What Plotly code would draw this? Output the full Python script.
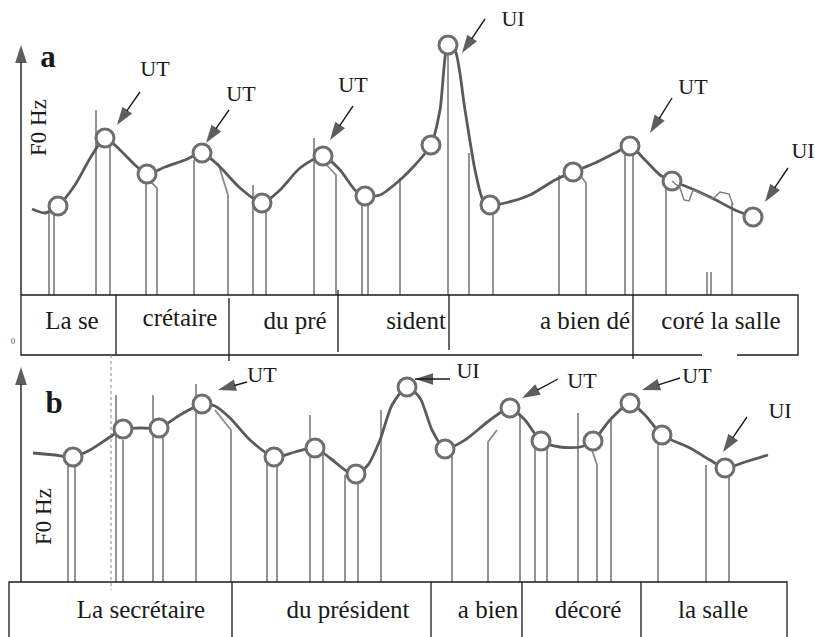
import plotly.graph_objects as go

SERIF = "Liberation Serif"
INK = "#1a1a1a"
CONTOUR = "#5a5a5a"
SPIKE = "#8a8a8a"
RING = "#6e6e6e"

# ---------------- panel a : F0 contour, time in frames, F0 above tier line
a_time = [32, 45, 58, 75, 92, 105, 120, 135, 147, 165, 185, 202, 218, 240, 262,
          280, 300, 323, 340, 355, 365, 380, 400, 415, 431, 440, 448, 455, 465,
          475, 483, 490, 505, 530, 555, 573, 595, 615, 630, 645, 660, 672, 690,
          710, 735, 753]
a_f0 = [86, 82, 89, 110, 140, 157, 145, 130, 121, 128, 135, 142, 130, 107, 92,
        105, 127, 139, 125, 105, 99, 100, 115, 130, 150, 185, 250, 245, 185,
        125, 95, 90, 92, 100, 115, 123, 132, 142, 149, 135, 120, 114, 107,
        98, 85, 78]
a_alt_time = [672, 680, 684, 689, 693, 700, 712, 716, 720, 729, 733]
a_alt_f0 = [114, 107, 95, 94, 105, 102, 96, 99, 103, 101, 90]

a_tgt_time = [58, 105, 147, 202, 262, 323, 365, 431, 448, 490, 573, 630, 672, 753]
a_tgt_f0 = [89, 157, 121, 142, 92, 139, 99, 150, 250, 90, 123, 149, 114, 78]

a_spike_time = [49, 54, 96, 110, 146, 194, 253, 266, 314, 362, 368, 400, 448,
                469, 493, 559, 625, 633, 666, 707, 711, 732]
a_spike_top = [82, 82, 185, 155, 120, 135, 110, 90, 157, 95, 95, 117, 250,
               142, 80, 120, 145, 145, 110, 23, 23, 92]
# spikes with a falling onset: start time, start F0, end time, end F0
a_slant_t0 = [147, 218, 322, 580]
a_slant_f0 = [117, 132, 135, 120]
a_slant_t1 = [157, 228, 336, 586]
a_slant_f1 = [107, 100, 120, 112]

a_bounds = [116, 229, 338, 449, 633]
a_bound_hi = [0, -3, 5, 0, 0]
a_bound_lo = [-60, -66, -57, -55, -64]
a_words = ["La se", "crétaire", "du pré", "sident", "a bien dé", "coré la salle"]
a_word_time = [72, 180, 295, 416, 585, 721]
a_word_f0 = [-28, -25, -28, -28, -28, -28]

a_tags = ["UT", "UT", "UT", "UI", "UT", "UI"]
a_tag_time = [155, 241, 353, 513, 693, 803]
a_tag_f0 = [225, 200, 209, 275, 207, 143]
a_tail_time = [140, 229, 353, 485, 672, 788]
a_tail_f0 = [203, 185, 189, 276, 197, 127]
a_tip_time = [117, 206, 330, 462, 650, 765]
a_tip_f0 = [170, 152, 155, 242, 162, 93]

# ---------------- panel b
b_time = [33, 55, 73, 90, 110, 123, 140, 159, 180, 202, 215, 230, 250, 274, 295,
          315, 330, 345, 356, 368, 380, 392, 407, 420, 432, 445, 465, 490, 510,
          525, 541, 560, 580, 593, 610, 630, 645, 662, 690, 710, 725, 745, 768]
b_f0 = [129, 127, 125, 132, 145, 153, 154, 154, 167, 178, 176, 164, 142, 125, 130,
        134, 124, 112, 108, 117, 142, 177, 195, 184, 152, 133, 142, 162, 174,
        162, 141, 135, 135, 141, 162, 179, 167, 147, 134, 122, 114, 120, 127]

b_tgt_time = [73, 123, 159, 202, 274, 315, 356, 407, 445, 510, 541, 593, 630, 662, 725]
b_tgt_f0 = [125, 153, 154, 178, 125, 134, 108, 195, 133, 174, 141, 141, 179, 147, 114]

b_spike_time = [68, 75, 116, 123, 153, 163, 196, 267, 277, 310, 323, 345, 358,
                381, 452, 520, 535, 547, 578, 611, 658, 706, 729]
b_spike_top = [125, 122, 187, 142, 187, 147, 198, 122, 117, 167, 127, 107, 102,
               172, 127, 167, 137, 137, 169, 162, 142, 117, 107]
b_slant_t0 = [215, 497, 592]
b_slant_f0 = [172, 152, 132]
b_slant_t1 = [231, 488, 597]
b_slant_f1 = [152, 140, 117]

b_bounds = [232, 431, 522, 641]
b_words = ["La secrétaire", "du président", "a bien", "décoré", "la salle"]
b_word_time = [141, 348, 488, 588, 713]
b_word_f0 = [-30, -30, -30, -30, -30]

b_tags = ["UT", "UI", "UT", "UT", "UI"]
b_tag_time = [262, 468, 582, 697, 780]
b_tag_f0 = [206, 210, 200, 205, 170]
b_tail_time = [247, 450, 558, 680, 747]
b_tail_f0 = [200, 203, 203, 204, 165]
b_tip_time = [218, 415, 522, 642, 723]
b_tip_f0 = [192, 203, 184, 192, 130]

fig = go.Figure()


def add(trace, panel):
    if panel == "b":
        trace.update(xaxis="x2", yaxis="y2")
    fig.add_trace(trace)


def segments(x0s, y0s, x1s, y1s):
    xs, ys = [], []
    for a, b, c, d in zip(x0s, y0s, x1s, y1s):
        xs += [a, c, None]
        ys += [b, d, None]
    return xs, ys


def arrow(p, x0, y0, x1, y1):
    add(go.Scatter(x=[x0, x1], y=[y0, y1], mode="lines+markers",
                   line=dict(color=INK, width=1.4),
                   marker=dict(symbol="arrow", size=[0, 19], color=INK,
                               angleref="previous", line=dict(width=0)),
                   hoverinfo="skip"), p)


def panel(p, time, f0, tgt_t, tgt_f, sp_t, sp_top, sl_t0, sl_f0, sl_t1, sl_f1,
          tags, tag_t, tag_f, tail_t, tail_f, tip_t, tip_f,
          words, word_t, word_f, axis_x, axis_top):
    # voicing spikes
    xs, ys = segments(sp_t, sp_top, sp_t, [0] * len(sp_t))
    for a, b, c, d in zip(sl_t0, sl_f0, sl_t1, sl_f1):
        xs += [a, c, c, None]
        ys += [b, d, 0, None]
    add(go.Scatter(x=xs, y=ys, mode="lines",
                   line=dict(color=SPIKE, width=1.8), hoverinfo="skip"), p)
    # smoothed F0 contour
    add(go.Scatter(x=time, y=f0, mode="lines",
                   line=dict(color=CONTOUR, width=2.8, shape="spline", smoothing=0.7),
                   hoverinfo="skip"), p)
    # target points
    add(go.Scatter(x=tgt_t, y=tgt_f, mode="markers",
                   marker=dict(symbol="circle", size=18, color="white",
                               line=dict(color=RING, width=3)),
                   hoverinfo="skip"), p)
    # vertical F0 axis with arrow
    arrow(p, axis_x, 0, axis_x, axis_top)
    # tone-unit pointers
    for tt, tf, ht, hf in zip(tail_t, tail_f, tip_t, tip_f):
        arrow(p, tt, tf, ht, hf)
    add(go.Scatter(x=tag_t, y=tag_f, mode="text", text=tags,
                   textfont=dict(family=SERIF, size=22, color=INK),
                   textposition="middle center", hoverinfo="skip"), p)
    # word tier labels
    add(go.Scatter(x=word_t, y=word_f, mode="text", text=words,
                   textfont=dict(family=SERIF, size=25, color=INK),
                   textposition="middle center", hoverinfo="skip"), p)


panel("a", a_time, a_f0, a_tgt_time, a_tgt_f0, a_spike_time, a_spike_top,
      a_slant_t0, a_slant_f0, a_slant_t1, a_slant_f1,
      a_tags, a_tag_time, a_tag_f0, a_tail_time, a_tail_f0, a_tip_time, a_tip_f0,
      a_words, a_word_time, a_word_f0, 21, 250)
panel("b", b_time, b_f0, b_tgt_time, b_tgt_f0, b_spike_time, b_spike_top,
      b_slant_t0, b_slant_f0, b_slant_t1, b_slant_f1,
      b_tags, b_tag_time, b_tag_f0, b_tail_time, b_tail_f0, b_tip_time, b_tip_f0,
      b_words, b_word_time, b_word_f0, 21, 215)

# secondary (unsmoothed) track in panel a
add(go.Scatter(x=a_alt_time, y=a_alt_f0, mode="lines",
               line=dict(color="#7a7a7a", width=1.4), hoverinfo="skip"), "a")

# word tier frame, panel a (bottom rule interrupted near the end)
add(go.Scatter(x=[702, 21, 21, 798, 798, 737], y=[-60, -60, 0, 0, -60, -60],
               mode="lines", line=dict(color=INK, width=1.3), hoverinfo="skip"), "a")
xs, ys = segments(a_bounds, a_bound_hi, a_bounds, a_bound_lo)
add(go.Scatter(x=xs, y=ys, mode="lines", line=dict(color=INK, width=1.3),
               hoverinfo="skip"), "a")

# word tier frame, panel b (open at the bottom)
add(go.Scatter(x=[9, 9, 787, 787], y=[-70, 0, 0, -70], mode="lines",
               line=dict(color=INK, width=1.3), hoverinfo="skip"), "b")
xs, ys = segments(b_bounds, [0] * 4, b_bounds, [-70] * 4)
add(go.Scatter(x=xs, y=ys, mode="lines", line=dict(color=INK, width=1.3),
               hoverinfo="skip"), "b")

# dotted alignment guide
add(go.Scatter(x=[111, 111], y=[227, -8], mode="lines",
               line=dict(color="#888888", width=1, dash="dot"), hoverinfo="skip"), "b")

# panel letters and axis titles
add(go.Scatter(x=[48], y=[236], mode="text", text=["<b>a</b>"],
               textfont=dict(family=SERIF, size=31, color=INK), hoverinfo="skip"), "a")
add(go.Scatter(x=[54], y=[177], mode="text", text=["<b>b</b>"],
               textfont=dict(family=SERIF, size=31, color=INK), hoverinfo="skip"), "b")
add(go.Scatter(x=[13], y=[-47], mode="text", text=["0"],
               textfont=dict(family=SERIF, size=9, color="#555555"), hoverinfo="skip"), "a")

fig.add_annotation(x=38, y=167, xref="x", yref="y", text="F0 Hz", showarrow=False,
                   textangle=-90, font=dict(family=SERIF, size=23, color=INK))
fig.add_annotation(x=43, y=65, xref="x2", yref="y2", text="F0 Hz", showarrow=False,
                   textangle=-90, font=dict(family=SERIF, size=23, color=INK))

hidden = dict(visible=False, fixedrange=True)
fig.update_layout(
    width=815, height=637,
    margin=dict(l=0, r=0, t=0, b=0),
    paper_bgcolor="white",
    plot_bgcolor="rgba(0,0,0,0)",
    showlegend=False,
    font=dict(family=SERIF),
    xaxis=dict(range=[0, 815], domain=[0, 1], anchor="y", **hidden),
    yaxis=dict(range=[-75, 295], domain=[1 - 370 / 637, 1], anchor="x", **hidden),
    xaxis2=dict(range=[0, 815], domain=[0, 1], anchor="y2", **hidden),
    yaxis2=dict(range=[-55, 232], domain=[0, 287 / 637], anchor="x2", **hidden),
)

fig.write_html("out.html")
